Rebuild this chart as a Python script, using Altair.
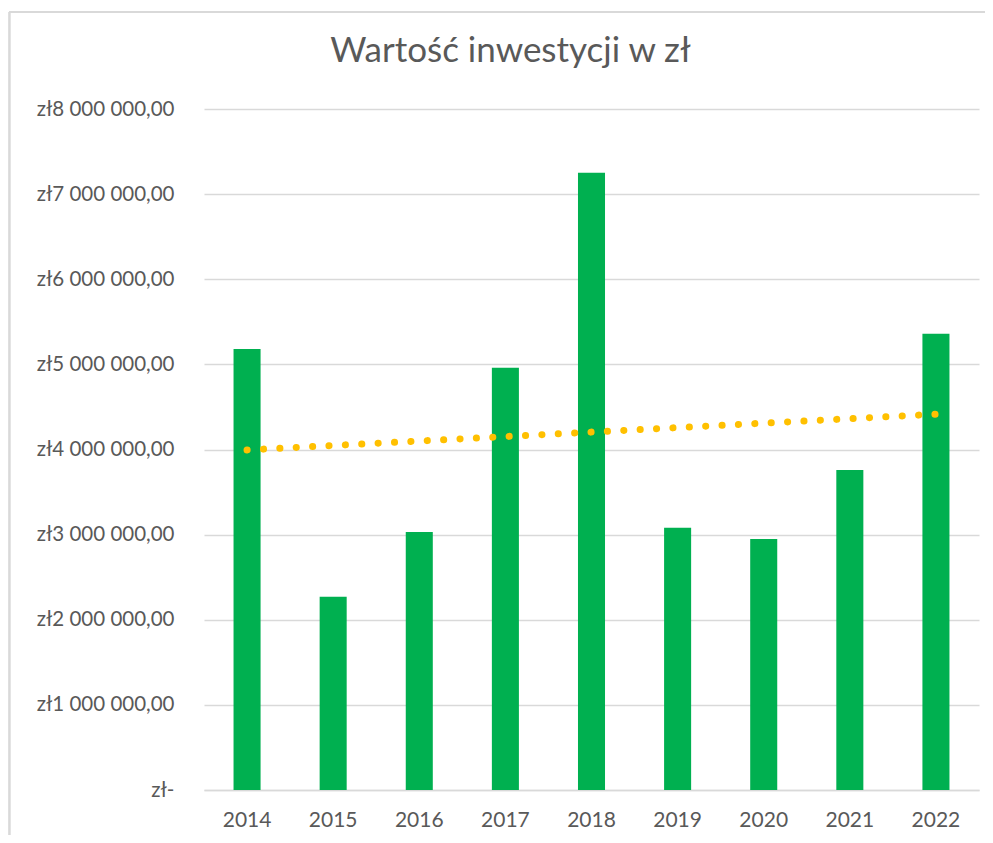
import altair as alt
import pandas as pd

years = [2014, 2015, 2016, 2017, 2018, 2019, 2020, 2021, 2022]
values = [5180000, 2270000, 3030000, 4960000, 7250000, 3080000, 2950000, 3760000, 5360000]

df = pd.DataFrame({"year": years, "value": values})

W, H = 775, 681
FONT = "Lato"
TXT = "#595959"
GRID = "#D9D9D9"

ylabel = ("datum.value == 0 ? 'zł-\u2002' : 'zł' + replace(replace(format(datum.value, ',.2f'), "
          "regexp(',', 'g'), ' '), '.', ',')")

xenc = alt.X("year:O", title=None,
             scale=alt.Scale(paddingInner=0.686, paddingOuter=0.343),
             axis=alt.Axis(labelAngle=0, labelFontSize=21, labelColor=TXT, labelFont=FONT,
                           labelPadding=19, ticks=False, domainColor=GRID, domainWidth=1.3))
yenc = alt.Y("value:Q", title=None,
             scale=alt.Scale(domain=[0, 8000000]),
             axis=alt.Axis(values=[0, 1000000, 2000000, 3000000, 4000000, 5000000, 6000000, 7000000, 8000000],
                           labelExpr=ylabel, labelFontSize=20.5, labelColor=TXT, labelFont=FONT,
                           labelPadding=30, ticks=False, domain=False, gridColor=GRID, gridWidth=1.3))

base = alt.Chart(df)
bars = base.mark_bar(color="#00B050").encode(x=xenc, y=yenc)
trend = base.transform_regression("year", "value", method="linear").mark_line(
    color="#FFC000", strokeWidth=7, strokeDash=[0.1, 16.3], strokeCap="round"
).encode(x="year:O", y="value:Q")

border_left = alt.Chart(df).mark_rule(color=GRID, strokeWidth=1.3).encode(
    x=alt.value(-194.5), y=alt.value(-97), y2=alt.value(H + 60))
border_top = alt.Chart(df).mark_rule(color=GRID, strokeWidth=1.3).encode(
    x=alt.value(-194.5), x2=alt.value(W + 20), y=alt.value(-97))

chart = alt.layer(bars, trend, border_left, border_top).properties(
    width=W, height=H,
    title=alt.Title("Wartość inwestycji w zł", fontSize=35, font=FONT, color=TXT,
                    fontWeight="normal", anchor="middle", dx=-81, dy=86, offset=0,
                    baseline="alphabetic"),
    autosize=alt.AutoSizeParams(type="none"),
    padding={"left": 196, "top": 101, "right": 6, "bottom": 45},
).configure(background="white").configure_view(stroke=None)

chart.save("out.html", embed_options={"renderer": "svg", "actions": False})
